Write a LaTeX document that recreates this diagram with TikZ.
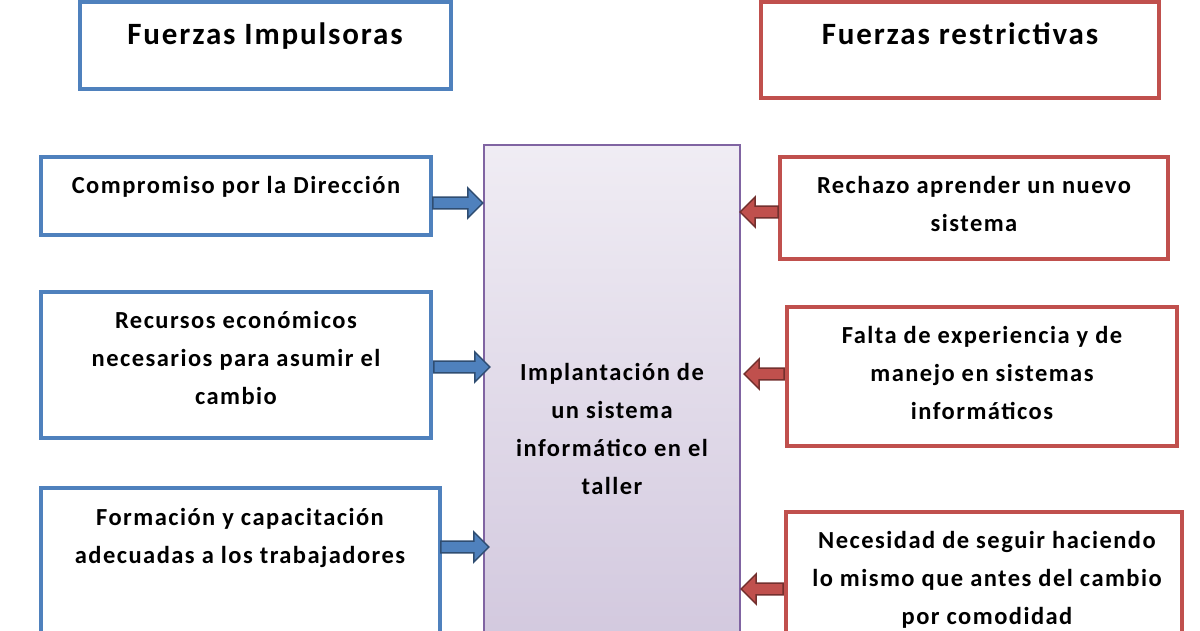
\documentclass[tikz,border=0pt]{standalone}
\usepackage{fontspec}
\setmainfont{Carlito}[LetterSpace=6]
\usetikzlibrary{shapes.arrows}
\definecolor{bl}{HTML}{4F81BD}
\definecolor{rd}{HTML}{C0504D}
\definecolor{pu}{HTML}{8064A2}
\begin{document}
\begin{tikzpicture}[x=1pt,y=-1pt,
 box/.style={draw=#1,line width=3.5pt,fill=white},
 txt/.style={font=\bfseries\fontsize{24.5}{38}\selectfont,align=center,inner sep=0pt},
 head/.style={font=\bfseries\fontsize{31}{32}\selectfont,inner sep=0pt},
 rarr/.style={single arrow,draw=bl!60!black,fill=bl,line width=1.5pt,minimum height=#1,single arrow head extend=6pt,minimum width=30pt,inner sep=3pt},
 larr/.style={single arrow,shape border rotate=180,draw=rd!60!black,fill=rd,line width=1.5pt,minimum height=#1,single arrow head extend=6pt,minimum width=30pt,inner sep=3pt}]
\useasboundingbox (0,0) rectangle (1200,630);
\draw[box=bl] (80,2) rectangle (451,89);
\node[head] (hl) at (265,36) {Fuerzas Impulsoras};
\draw[box=rd] (761,2) rectangle (1159,98);
\node[head] (hr) at (960,34) {Fuerzas restrictivas};
\draw[draw=pu,line width=1.5pt,top color=pu!12,bottom color=pu!35] (484,145) rectangle (740,640);
\node[txt] (c) at (612,429) {Implantación de\\un sistema\\informático en el\\taller};
\draw[box=bl] (41,157) rectangle (431,235);
\node[txt,anchor=north] (l1) at (236,176) {Compromiso por la Dirección};
\draw[box=bl] (41,292) rectangle (431,438);
\node[txt,anchor=north] (l2) at (236,311) {Recursos económicos\\necesarios para asumir el\\cambio};
\draw[box=bl] (41,488) rectangle (440,640);
\node[txt,anchor=north] (l3) at (240,508) {Formación y capacitación\\adecuadas a los trabajadores};
\draw[box=rd] (780,157) rectangle (1168,259);
\node[txt,anchor=north] (r1) at (974,176) {Rechazo aprender un nuevo\\sistema};
\draw[box=rd] (787,307) rectangle (1177,446);
\node[txt,anchor=north] (r2) at (982,326) {Falta de experiencia y de\\manejo en sistemas\\informáticos};
\draw[box=rd] (786,512) rectangle (1182,640);
\node[txt,anchor=north] (r3) at (987,531) {Necesidad de seguir haciendo\\lo mismo que antes del cambio\\por comodidad};
\node[rarr=50pt] (a1) at (455,203) {};
\node[rarr=56pt] (a2) at (459,367) {};
\node[rarr=48pt] (a3) at (462,547) {};
\node[larr=38pt] (b1) at (762,212) {};
\node[larr=40pt] (b2) at (767,374) {};
\node[larr=42pt] (b3) at (765,589) {};
\end{tikzpicture}
\end{document}
